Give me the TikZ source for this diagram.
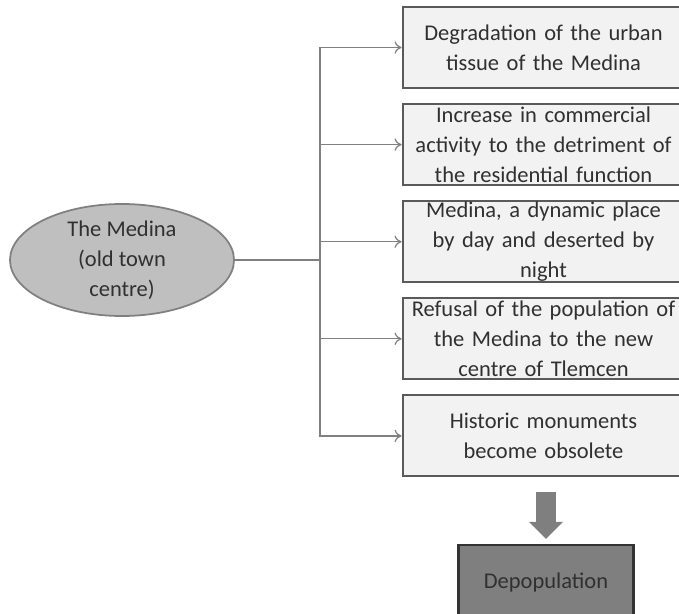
\documentclass[tikz,border=0pt]{standalone}
\usepackage{fontspec}
\setmainfont{Carlito}
\usepackage{xcolor}
\usepackage{tikz}
\usetikzlibrary{shapes.geometric, arrows.meta, positioning, calc}
\definecolor{boxfill}{HTML}{F2F2F2}
\definecolor{boxline}{HTML}{5A5A5A}
\definecolor{ovalfill}{HTML}{BFBFBF}
\definecolor{darkfill}{HTML}{7F7F7F}
\definecolor{inktext}{HTML}{303030}
\tikzstyle{cause} = [rectangle, minimum width=5.5cm, minimum height=1.62cm, text width=5.4cm, inner ysep=0pt, align=center, draw=boxline, line width=1.2pt, fill=boxfill, font=\fontsize{12.8}{17}\selectfont, text=inktext]
\tikzstyle{centre} = [ellipse, minimum width=4.48cm, minimum height=2.24cm, inner sep=0pt, align=center, draw=gray, line width=1pt, fill=ovalfill, font=\fontsize{12.8}{17}\selectfont, text=inktext]
\tikzstyle{result} = [rectangle, minimum width=3.5cm, minimum height=1.5cm, draw=black!80, line width=1.2pt, fill=darkfill, font=\fontsize{12.8}{17}\selectfont, text=inktext]
\tikzstyle{branch} = [gray, line width=0.7pt, -{To[length=4pt,width=7pt]}]
\tikzstyle{bigarrow} = [darkfill, line width=0.4cm, -{Triangle[length=0.34cm,width=0.66cm]}]

\begin{document}
\begin{tikzpicture}[node distance=0.28cm]
	\useasboundingbox (0,0) rectangle (13.58,-12.28);
	% nodes
	\node (degradation) at (10.87,-0.95) [cause] {Degradation of the urban\\ tissue of the Medina};
	
	\node (commerce) [cause, below=of degradation] {Increase in commercial\\ activity to the detriment of\\ the residential function};
	
	\node (dynamic) [cause, below=of commerce] {Medina, a dynamic place\\ by day and deserted by\\ night};
	
	\node (refusal) [cause, below=of dynamic] {Refusal of the population of\\ the Medina to the new\\ centre of Tlemcen};
	
	\node (monuments) [cause, below=of refusal] {Historic monuments\\ become obsolete};
	
	\node (medina) at (2.44,-5.2) [centre] {The Medina\\ (old town\\ centre)};
	
	\node (depopulation) at (10.92,-11.65) [result] {Depopulation};
	
	\coordinate (split) at (6.4,-5.2);
	
	% arrows
	\draw [gray, line width=0.9pt] (medina) -- (split);
	\draw [branch] (split) |- (degradation.west);
	\draw [branch] (split) |- (commerce.west);
	\draw [branch] (split) |- (dynamic.west);
	\draw [branch] (split) |- (refusal.west);
	\draw [branch] (split) |- (monuments.west);
	\draw [bigarrow, shorten <=0.3cm, shorten >=0.1cm] (depopulation.north |- monuments.south) -- (depopulation.north);
\end{tikzpicture}
\end{document}
